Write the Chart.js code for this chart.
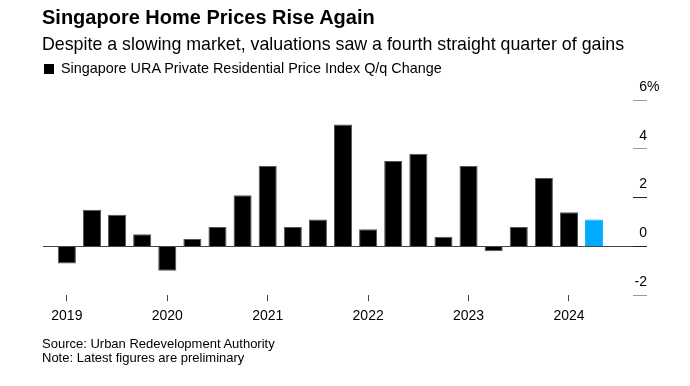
<!DOCTYPE html>
<html>
<head>
<meta charset="utf-8">
<script src="https://cdn.jsdelivr.net/npm/chart.js@4"></script>
<style>
  body { margin: 0; background: #fff; font-family: "Liberation Sans", Arial, sans-serif; }
  #wrap { position: relative; width: 690px; height: 386px; }
  canvas { position: absolute; left: 0; top: 0; }
  .txt { position: absolute; left: 42px; color: #000; white-space: nowrap; }
  #title { top: 5px; font-size: 20px; font-weight: bold; line-height: 24px; }
  #sub { top: 34px; font-size: 17.8px; line-height: 20px; }
  #legend { top: 60px; font-size: 14.4px; line-height: 17px; }
  #legend span { display: inline-block; width: 10px; height: 10px; background: #000; margin: 0 7px 0 2px; vertical-align: -1px; }
  #source { top: 337px; font-size: 13px; line-height: 14px; }
</style>
</head>
<body>
<div id="wrap">
  <canvas id="myCanvas" width="690" height="386"></canvas>
  <div class="txt" id="title">Singapore Home Prices Rise Again</div>
  <div class="txt" id="sub">Despite a slowing market, valuations saw a fourth straight quarter of gains</div>
  <div class="txt" id="legend"><span></span>Singapore URA Private Residential Price Index Q/q Change</div>
  <div class="txt" id="source">Source: Urban Redevelopment Authority<br>Note: Latest figures are preliminary</div>
</div>
<script>
// quarters 2019 Q1 .. 2024 Q2
const quarters = ['2019Q1','2019Q2','2019Q3','2019Q4','2020Q1','2020Q2','2020Q3','2020Q4',
    '2021Q1','2021Q2','2021Q3','2021Q4','2022Q1','2022Q2','2022Q3','2022Q4',
    '2023Q1','2023Q2','2023Q3','2023Q4','2024Q1','2024Q2'];
const qoqChange = [-0.7, 1.5, 1.3, 0.5, -1.0, 0.3, 0.8, 2.1,
    3.3, 0.8, 1.1, 5.0, 0.7, 3.5, 3.8, 0.4,
    3.3, -0.2, 0.8, 2.8, 1.4, 1.1];
const yearLabels = ['2019','2020','2021','2022','2023','2024'];
const yearTickPos = [0, 4, 8, 12, 16, 20];
const yTicks = [-2, 0, 2, 4, 6];

const barColors = quarters.map((q, i) => i === quarters.length - 1 ? '#00aaff' : '#000');
const borderColors = quarters.map((q, i) => i === quarters.length - 1 ? '#00aaff' : '#555');

// y labels sit above the small tick marks on the right
const yLabels = {
    id: 'yLabels',
    afterDraw(chart) {
        const ctx = chart.ctx;
        const y = chart.scales.y;
        const xr = chart.chartArea.right + 14;
        ctx.save();
        ctx.font = '14px "Liberation Sans", Arial, sans-serif';
        ctx.fillStyle = '#000';
        ctx.textBaseline = 'middle';
        yTicks.forEach((v, i) => {
            const py = y.getPixelForValue(v) - 13;
            ctx.textAlign = 'right';
            ctx.fillText(String(v), xr, py);
            if (i === yTicks.length - 1) {
                ctx.textAlign = 'left';
                ctx.fillText('%', xr, py);
            }
        });
        ctx.restore();
    }
};

const dataConfig = {
    datasets: [{
        label: 'Singapore URA Private Residential Price Index Q/q Change',
        data: qoqChange.map((v, i) => ({x: i, y: v})),
        backgroundColor: barColors,
        borderColor: borderColors,
        borderWidth: 1,
        barPercentage: 0.72,
        categoryPercentage: 1
    }]
};

const config = {
    type: 'bar',
    data: dataConfig,
    plugins: [yLabels],
    options: {
        responsive: false,
        animation: false,
        layout: { padding: { left: 43, top: 100, right: 43, bottom: 54 } },
        plugins: { legend: { display: false }, tooltip: { enabled: false } },
        scales: {
            x: {
                type: 'linear',
                min: -0.95,
                max: 22.55,
                offset: false,
                afterBuildTicks: (scale) => { scale.ticks = yearTickPos.map(v => ({value: v})); },
                ticks: {
                    autoSkip: false,
                    maxRotation: 0,
                    padding: 7,
                    color: '#000',
                    font: { size: 14, family: '"Liberation Sans", Arial, sans-serif' },
                    callback: (v) => yearLabels[yearTickPos.indexOf(v)]
                },
                grid: { offset: false, drawOnChartArea: false, drawTicks: true, tickLength: 6, tickColor: '#444' },
                border: { display: false }
            },
            y: {
                position: 'right',
                min: -2,
                max: 6,
                afterBuildTicks: (scale) => { scale.ticks = yTicks.map(v => ({value: v})); },
                ticks: { display: false },
                grid: {
                    drawTicks: true,
                    tickLength: 14,
                    color: (c) => c.tick && c.tick.value === 0 ? '#444' : 'rgba(0,0,0,0)',
                    tickColor: (c) => c.tick && (c.tick.value === 0 || c.tick.value === 2) ? '#222' : '#999'
                },
                border: { display: false }
            }
        }
    }
};

const myChart = new Chart(document.getElementById('myCanvas'), config);
</script>
</body>
</html>
